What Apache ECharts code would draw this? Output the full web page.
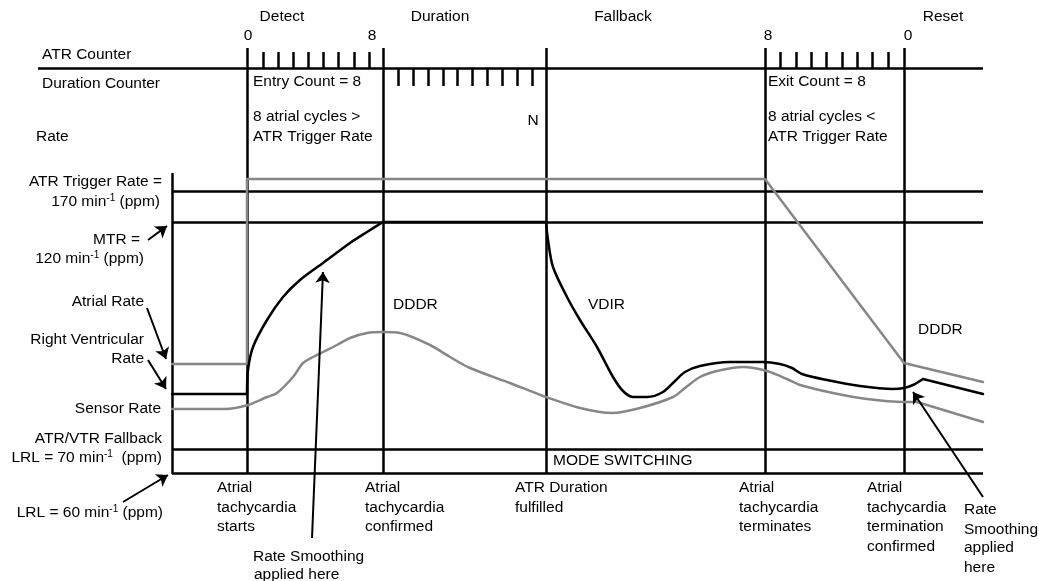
<!DOCTYPE html>
<html>
<head>
<meta charset="utf-8">
<script src="https://cdn.jsdelivr.net/npm/echarts@6/dist/echarts.min.js"></script>
<style>
  html, body { margin: 0; padding: 0; background: #fff; }
  #chart { width: 1039px; height: 581px; }
</style>
</head>
<body>
<div id="chart"></div>
<script>
// diagram units: x = time along the episode, y = schematic rate level (down = lower)
const eventX = [247, 383, 546, 765, 904];
const phaseNames = ['Detect', 'Duration', 'Fallback', 'Reset'];
const phaseX = [282, 440, 623, 943];
const counterTopY = 48;
const counterY = 68;
const atrTriggerY = 191;
const mtrY = 222;
const fallbackY = 449;
const lrlY = 473;
const axisX = 172;
const rightX = 983;

const atrTicks = [263, 278, 293, 308, 323, 338, 354, 369];
const durationTicks = [398, 413, 428, 443, 457, 472, 487, 502, 517, 532];
const exitTicks = [780, 796, 811, 826, 842, 857, 872, 888];

// Atrial rate (gray)
const atrialRate = [[172, 364], [247, 364], [247, 179], [765, 179], [904, 363], [983, 382]];
// Right ventricular rate (black)
const rvBefore = [[172, 394], [247, 394]];
const rvRise = [[247, 394], [248, 370], [253, 347], [267, 320], [283, 297], [300, 280], [323, 263], [350, 243], [367, 232], [383, 222]];
const rvHold = [[383, 222], [546, 222]];
const rvFall = [[546, 222], [548, 240], [553, 267], [567, 297], [580, 320], [597, 347], [613, 377], [623, 391], [633, 397],
  [647, 397], [663, 392], [675, 381], [685, 372], [700, 366], [730, 362], [763, 362], [780, 364], [792, 368], [802, 374],
  [827, 380], [860, 386], [893, 389], [904, 388], [913, 385], [923, 379]];
const rvAfter = [[923, 379], [983, 394]];
// Sensor rate (gray)
const sensorCurve = [[172, 409], [225, 409], [248, 405], [267, 397], [277, 393], [293, 377], [303, 363], [313, 357], [323, 352],
  [337, 345], [350, 338], [367, 333], [383, 332], [400, 333], [430, 345], [450, 357], [470, 368], [510, 383], [546, 397],
  [580, 408], [612, 413], [640, 408], [673, 397], [685, 388], [700, 377], [717, 371], [743, 367], [767, 371], [787, 379],
  [800, 385], [833, 393], [867, 399], [904, 402], [917, 402]];
const sensorAfter = [[917, 402], [983, 422]];

// arrows: [fromX, fromY, toX, toY]
const arrows = [
  [148, 240, 167, 226],
  [147, 308, 166, 359],
  [148, 360, 166, 389],
  [123, 502, 168, 475],
  [312, 538, 323, 272],
  [983, 497, 913, 392]
];

// texts: [x, y, text, align]
const labels = [
  [phaseX[0], 17, phaseNames[0], 'center'],
  [phaseX[1], 17, phaseNames[1], 'center'],
  [phaseX[2], 17, phaseNames[2], 'center'],
  [phaseX[3], 17, phaseNames[3], 'center'],
  [248, 36, '0', 'center'],
  [372, 36, '8', 'center'],
  [768, 36, '8', 'center'],
  [908, 36, '0', 'center'],
  [42, 55, 'ATR Counter', 'left'],
  [42, 84, 'Duration Counter', 'left'],
  [36, 137, 'Rate', 'left'],
  [253, 82, 'Entry Count = 8', 'left'],
  [253, 117, '8 atrial cycles >', 'left'],
  [253, 137, 'ATR Trigger Rate', 'left'],
  [533, 121, 'N', 'center'],
  [768, 82, 'Exit Count = 8', 'left'],
  [768, 117, '8 atrial cycles <', 'left'],
  [768, 137, 'ATR Trigger Rate', 'left'],
  [162, 182, 'ATR Trigger Rate =', 'right'],
  [160, 202, '170 min{sup|-1} (ppm)', 'right'],
  [140, 240, 'MTR =', 'right'],
  [144, 259, '120 min{sup|-1} (ppm)', 'right'],
  [144, 302, 'Atrial Rate', 'right'],
  [144, 340, 'Right Ventricular', 'right'],
  [144, 359, 'Rate', 'right'],
  [161, 409, 'Sensor Rate', 'right'],
  [162, 439, 'ATR/VTR Fallback', 'right'],
  [162, 458, 'LRL = 70 min{sup|-1}  (ppm)', 'right'],
  [163, 513, 'LRL = 60 min{sup|-1} (ppm)', 'right'],
  [393, 305, 'DDDR', 'left'],
  [588, 305, 'VDIR', 'left'],
  [918, 330, 'DDDR', 'left'],
  [553, 461, 'MODE SWITCHING', 'left'],
  [217, 488, 'Atrial', 'left'],
  [217, 508, 'tachycardia', 'left'],
  [217, 527, 'starts', 'left'],
  [365, 488, 'Atrial', 'left'],
  [365, 508, 'tachycardia', 'left'],
  [365, 527, 'confirmed', 'left'],
  [515, 488, 'ATR Duration', 'left'],
  [515, 508, 'fulfilled', 'left'],
  [739, 488, 'Atrial', 'left'],
  [739, 508, 'tachycardia', 'left'],
  [739, 527, 'terminates', 'left'],
  [867, 488, 'Atrial', 'left'],
  [867, 508, 'tachycardia', 'left'],
  [867, 527, 'termination', 'left'],
  [867, 547, 'confirmed', 'left'],
  [964, 510, 'Rate', 'left'],
  [964, 530, 'Smoothing', 'left'],
  [964, 548, 'applied', 'left'],
  [964, 568, 'here', 'left'],
  [253, 557, 'Rate Smoothing', 'left'],
  [254, 575, 'applied here', 'left']
];

const BLACK = '#000000';
const GRAY = '#878787';
const LW = 2.5;
const FONT = '"Liberation Sans", Arial, sans-serif';

// frame segments built from the named levels
const frame = [];
frame.push([[38, counterY], [rightX, counterY]]);
[atrTriggerY, mtrY, fallbackY, lrlY].forEach(y => frame.push([[axisX, y], [rightX, y]]));
frame.push([[axisX, 173], [axisX, lrlY + 1]]);
eventX.forEach(x => frame.push([[x, counterTopY], [x, lrlY + 1]]));

const ticks = [];
atrTicks.forEach(x => ticks.push([[x, counterY - 16], [x, counterY]]));
durationTicks.forEach(x => ticks.push([[x, counterY], [x, counterY + 18]]));
exitTicks.forEach(x => ticks.push([[x, counterY - 16], [x, counterY]]));

const chart = echarts.init(document.getElementById('chart'), null, { renderer: 'canvas' });

function curve(data, color, smooth) {
  return {
    type: 'line',
    data: data,
    symbol: 'none',
    smooth: smooth,
    lineStyle: { color: color, width: LW, cap: 'round', join: 'round' },
    silent: true,
    z: 3
  };
}

const option = {
  animation: false,
  backgroundColor: '#fff',
  grid: { left: 0, right: 0, top: 0, bottom: 0 },
  xAxis: { type: 'value', min: 0, max: 1039, show: false },
  yAxis: { type: 'value', min: 0, max: 581, inverse: true, show: false },
  series: [
    {
      type: 'lines',
      coordinateSystem: 'cartesian2d',
      data: frame.map(c => ({ coords: c })),
      lineStyle: { color: BLACK, width: LW, opacity: 1 },
      silent: true,
      z: 2
    },
    {
      type: 'lines',
      coordinateSystem: 'cartesian2d',
      data: ticks.map(c => ({ coords: c })),
      lineStyle: { color: BLACK, width: LW, opacity: 1 },
      silent: true,
      z: 2
    },
    {
      type: 'lines',
      coordinateSystem: 'cartesian2d',
      data: arrows.map(a => ({ coords: [[a[0], a[1]], [a[2], a[3]]] })),
      symbol: ['none', 'arrow'],
      symbolSize: [7, 11],
      lineStyle: { color: BLACK, width: 2, opacity: 1 },
      silent: true,
      z: 4
    },
    curve(atrialRate, GRAY, false),
    curve(sensorCurve, GRAY, 0.3),
    curve(sensorAfter, GRAY, false),
    curve(rvBefore, BLACK, false),
    curve(rvRise, BLACK, 0.3),
    curve(rvHold, BLACK, false),
    curve(rvFall, BLACK, 0.3),
    curve(rvAfter, BLACK, false),
    {
      type: 'custom',
      data: labels.map(l => [l[0], l[1]]),
      silent: true,
      z: 5,
      renderItem: function (params, api) {
        const item = labels[params.dataIndex];
        const p = api.coord([item[0], item[1]]);
        return {
          type: 'text',
          x: p[0],
          y: p[1],
          style: {
            text: item[2],
            fill: BLACK,
            fontSize: 15.5,
            fontFamily: FONT,
            align: item[3],
            verticalAlign: 'middle',
            rich: {
              sup: { fontSize: 10, fontFamily: FONT, verticalAlign: 'top', padding: [0, 0, 8, 0], fill: BLACK }
            }
          }
        };
      }
    }
  ]
};

chart.setOption(option);
window.addEventListener('resize', chart.resize);
</script>
</body>
</html>
